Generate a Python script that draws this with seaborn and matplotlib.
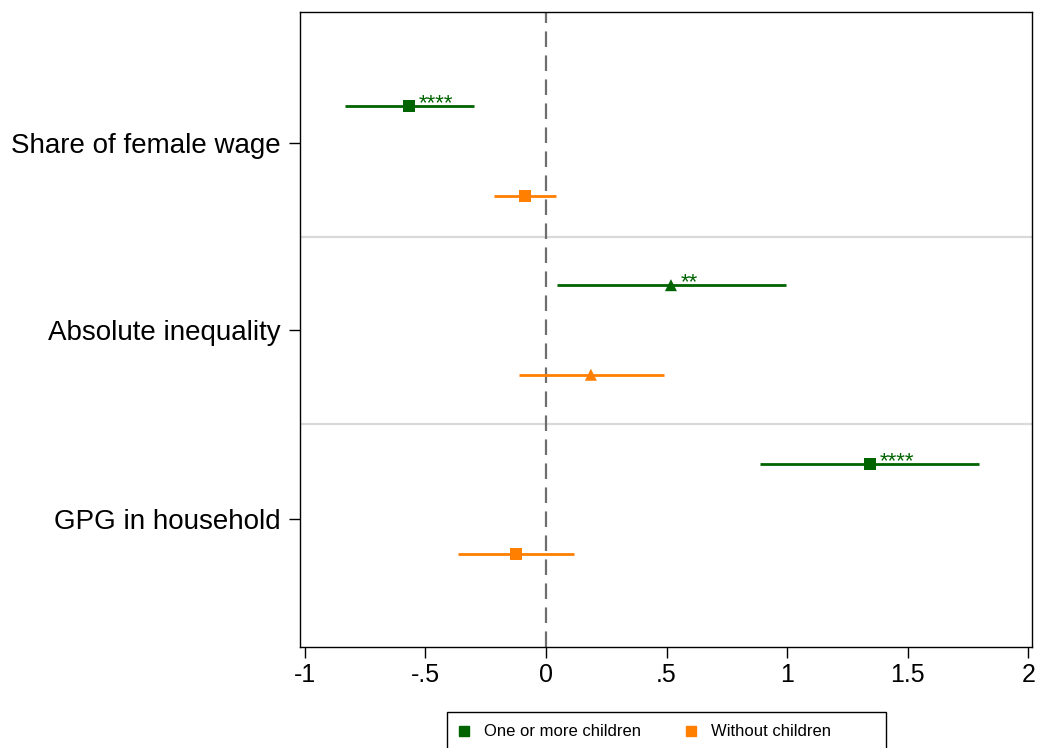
import pandas as pd
import matplotlib
matplotlib.use("Agg")
import matplotlib.pyplot as plt
from matplotlib.lines import Line2D
from matplotlib.patches import Rectangle
import seaborn as sns

# --------------------------
# Data
# --------------------------
outcomes = ["Share of female wage", "Absolute inequality", "GPG in household"]
groups = ["One or more children", "Without children"]

kids_est = [-0.568, 0.518, 1.343]
kids_lo = [-0.833, 0.046, 0.887]
kids_hi = [-0.298, 0.995, 1.794]
kids_stars = ["****", "**", "****"]

nokids_est = [-0.087, 0.186, -0.124]
nokids_lo = [-0.215, -0.112, -0.365]
nokids_hi = [0.041, 0.489, 0.116]
nokids_stars = ["", "", ""]

xtick_vals = [-1, -0.5, 0, 0.5, 1, 1.5, 2]
xtick_labels = ["-1", "-.5", "0", ".5", "1", "1.5", "2"]

# --------------------------
# Build long table
# --------------------------
rows = []
for i, name in enumerate(outcomes):
    rows.append(dict(outcome=name, group=groups[0], est=kids_est[i], lo=kids_lo[i],
                     hi=kids_hi[i], stars=kids_stars[i], row=2 * i))
    rows.append(dict(outcome=name, group=groups[1], est=nokids_est[i], lo=nokids_lo[i],
                     hi=nokids_hi[i], stars=nokids_stars[i], row=2 * i + 1))
df = pd.DataFrame(rows)

colors = {groups[0]: "#006400", groups[1]: "#FF7F00"}
markers = {"Share of female wage": "s", "Absolute inequality": "^", "GPG in household": "s"}

# --------------------------
# Plot
# --------------------------
sns.set_style("white")
plt.rcParams["font.family"] = ["Liberation Sans", "DejaVu Sans"]
plt.rcParams["text.color"] = "black"
plt.rcParams["xtick.color"] = "black"
plt.rcParams["ytick.color"] = "black"

fig = plt.figure(figsize=(10.37, 7.48), dpi=100)
ax = fig.add_axes([300 / 1037, 1 - 647 / 748, 732 / 1037, 635 / 748])

# separators between outcome blocks and zero line
for yy in [1.46, 3.55]:
    ax.axhline(yy, color="#d9d9d9", lw=1.6, zorder=1)
ax.axvline(0, color="#6e6e6e", lw=1.6, dashes=(7, 3.8), zorder=1)

# confidence intervals
for _, r in df.iterrows():
    ax.hlines(r["row"], r["lo"], r["hi"], color=colors[r["group"]], lw=2, zorder=2)

sns.scatterplot(data=df, x="est", y="row", hue="group", style="outcome",
                palette=colors, markers=markers, s=75, linewidth=0,
                legend=False, ax=ax, zorder=3)

# significance stars
for _, r in df.iterrows():
    if r["stars"]:
        ax.annotate(r["stars"], (r["est"], r["row"]), xytext=(7, 2),
                    textcoords="offset points", ha="left", va="center",
                    color=colors[r["group"]], fontsize=16)

ax.set_xlim(-1.02, 2.015)
ax.set_ylim(6.04, -1.05)
ax.set_xticks(xtick_vals)
ax.set_xticklabels(xtick_labels, fontsize=18)
ax.set_yticks([0.41, 2.5, 4.61])
ax.set_yticklabels(outcomes, fontsize=20)
ax.set_xlabel("")
ax.set_ylabel("")
ax.tick_params(axis="both", direction="out", length=8, width=1, colors="black",
               left=True, bottom=True)
ax.tick_params(axis="y", pad=6)
for sp in ax.spines.values():
    sp.set_color("black")
    sp.set_linewidth(1)

# legend: frame drawn separately so it runs off the bottom edge like the original
fig.patches.append(Rectangle((447 / 1037, -0.02), 439 / 1037, 0.02 + 1 - 712 / 748,
                             transform=fig.transFigure, fill=False,
                             edgecolor="black", linewidth=1))
handles = [Line2D([], [], marker="s", ls="", color=colors[g], markersize=6.5) for g in groups]
leg = fig.legend(handles, groups, loc="center left", ncol=2,
                 bbox_to_anchor=(455.5 / 1037, 1 - 732 / 748), fontsize=12,
                 frameon=False, handletextpad=0.7, columnspacing=2.5,
                 borderpad=0, borderaxespad=0, handlelength=1.0)

fig.savefig("out.png", dpi=100)
